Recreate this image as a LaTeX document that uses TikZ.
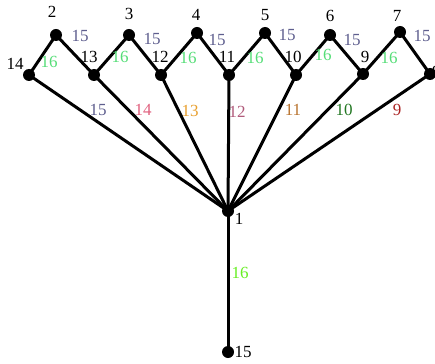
\documentclass[tikz,border=0pt]{standalone}
\usepackage{fontspec}
\setmainfont{Liberation Serif}
\definecolor{cpur}{HTML}{5E5E8E}
\definecolor{cgrn}{HTML}{55DD77}
\definecolor{cpink}{HTML}{E0607E}
\definecolor{corange}{HTML}{E8A030}
\definecolor{cmauve}{HTML}{B05A7A}
\definecolor{cbrown}{HTML}{B8732E}
\definecolor{cdkgrn}{HTML}{227722}
\definecolor{cdkred}{HTML}{AA2222}
\definecolor{clime}{HTML}{66EE22}
\begin{document}
\begin{tikzpicture}[x=1pt,y=-1pt,
  vtx/.style={circle,fill=black,inner sep=0pt,minimum size=12pt},
  edge/.style={line width=3pt},
  lab/.style={inner sep=0pt,font=\fontsize{17}{19}\selectfont},
]
\useasboundingbox (0,0) rectangle (435,363);
\clip (0,0) rectangle (435,363);
% vertices
\node[vtx] (v1) at (228,211) {};
\node[vtx] (v15) at (228,352) {};
\node[vtx] (v14) at (29,75) {};
\node[vtx] (v13) at (94,75) {};
\node[vtx] (v12) at (161,75) {};
\node[vtx] (v11) at (229,75) {};
\node[vtx] (v10) at (296,75) {};
\node[vtx] (v9) at (363,74) {};
\node[vtx] (v8) at (430,74) {};
\node[vtx] (v2) at (56,35) {};
\node[vtx] (v3) at (129,35) {};
\node[vtx] (v4) at (197,33) {};
\node[vtx] (v5) at (265,33) {};
\node[vtx] (v6) at (330,35) {};
\node[vtx] (v7) at (400,32) {};
% edges
\draw[edge] (v14.center) -- (v2.center) -- (v13.center) -- (v3.center) -- (v12.center) -- (v4.center) -- (v11.center) -- (v5.center) -- (v10.center) -- (v6.center) -- (v9.center) -- (v7.center) -- (v8.center);
\foreach \v in {v14,v13,v12,v11,v10,v9,v8}
  \draw[edge] (v1.center) -- (\v.center);
\draw[edge] (v1.center) -- (v15.center);
% vertex labels
\node[lab] (l2) at (52,12) {2};
\node[lab] (l3) at (129,14) {3};
\node[lab] (l4) at (196,15) {4};
\node[lab] (l5) at (265,15) {5};
\node[lab] (l6) at (330,16) {6};
\node[lab] (l7) at (397,16) {7};
\node[lab] (l14) at (15,64) {14};
\node[lab] (l13) at (89,57) {13};
\node[lab] (l12) at (160,57) {12};
\node[lab] (l11) at (227,57) {11};
\node[lab] (l10) at (293,57) {10};
\node[lab] (l9) at (365,57) {9};
\node[lab] (l8) at (436,72) {8};
\node[lab] (l1) at (239,219) {1};
\node[lab] (l15) at (243,352) {15};
% edge labels
\foreach \x/\y in {80/36,152/39,217/40,287/35,352/40,422/36}
  \node[lab,text=cpur] at (\x,\y) {15};
\foreach \x/\y in {49/62,120/57,188/58,255/58,323/55,389/58}
  \node[lab,text=cgrn] at (\x,\y) {16};
\node[lab,text=cpur] (s15) at (98,110) {15};
\node[lab,text=cpink] (s14) at (143,110) {14};
\node[lab,text=corange] (s13) at (190,111) {13};
\node[lab,text=cmauve] (s12) at (237,112) {12};
\node[lab,text=cbrown] (s11) at (293,110) {11};
\node[lab,text=cdkgrn] (s10) at (344,110) {10};
\node[lab,text=cdkred] (s9) at (397,110) {9};
\node[lab,text=clime] (s16) at (240,273) {16};
\end{tikzpicture}
\end{document}
